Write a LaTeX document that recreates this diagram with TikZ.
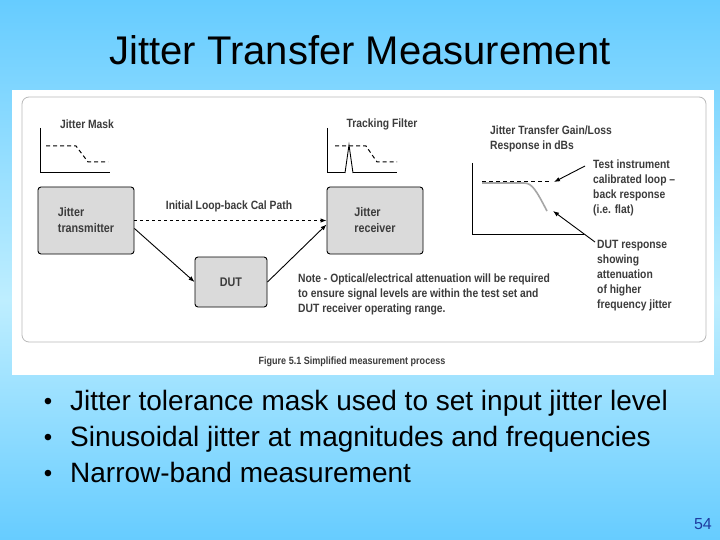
\documentclass[tikz,border=0pt]{standalone}
\usepackage{fontspec}
\setmainfont{Liberation Sans}
\newfontfamily\figfont[FakeStretch=0.86]{Liberation Sans Bold}
\usetikzlibrary{arrows.meta,calc}
\definecolor{bgdark}{RGB}{102,204,255}
\definecolor{bglight}{RGB}{190,238,255}
\definecolor{boxfill}{RGB}{218,218,218}
\definecolor{figtext}{RGB}{60,60,60}
\definecolor{pagenum}{RGB}{30,60,160}
\tikzset{
  figlabel/.style={font=\figfont\fontsize{12}{15}\selectfont, text=figtext, inner sep=0pt},
  blockbox/.style={draw=black, line width=0.9pt, rounded corners=3pt, fill=boxfill,
    font=\figfont\fontsize{12.5}{16}\selectfont, text=figtext, align=left},
  conn/.style={line width=0.9pt, -{Latex[length=6pt,width=4.5pt]}},
  pointer/.style={line width=0.9pt, -{Latex[length=6pt,width=4.5pt]}},
  axisline/.style={line width=1pt},
  maskline/.style={line width=1pt, dash pattern=on 4pt off 3pt},
  bullettext/.style={font=\fontsize{28}{32}\selectfont, anchor=base west, inner sep=0pt},
  bulletdot/.style={font=\fontsize{24}{28}\selectfont, anchor=base, inner sep=0pt},
}
\begin{document}
\begin{tikzpicture}[x=1pt,y=-1pt]
\useasboundingbox (0,0) rectangle (720,540);
% background
\shade[top color=bgdark, bottom color=bglight] (0,0) rectangle (720,300);
\shade[top color=bglight, bottom color=bgdark] (0,300) rectangle (720,540.5);
% title
\node[font=\fontsize{40}{46}\selectfont, inner sep=0pt] (title) at (360,50) {Jitter Transfer Measurement};
% figure panel
\fill[white] (12,90) rectangle (714,375);
\draw[gray!55, line width=0.8pt, rounded corners=7pt] (22,97) rectangle (706,342);
\node[figlabel, font=\figfont\fontsize{10.5}{12}\selectfont] (caption) at (352,362) {Figure 5.1 Simplified measurement process};

% jitter mask mini chart
\node[figlabel] (masklbl) at (87,124) {Jitter Mask};
\draw[axisline] (40,128) -- (40,173) -- (110,173);
\draw[maskline] (46,146) -- (76,146) -- (88,162) -- (108,162);

% tracking filter mini chart
\node[figlabel] (filtlbl) at (382,124) {Tracking Filter};
\draw[axisline] (327,128) -- (327,173) -- (397,173);
\draw[maskline] (335,146) -- (366,146) -- (377,162) -- (397,162);
\draw[line width=0.9pt, fill=white] (345,173) -- (349,145) -- (353,173);

% blocks
\node[blockbox, minimum width=96pt, minimum height=67pt] (tx) at (86,220.5) {Jitter\\transmitter};
\node[blockbox, minimum width=96pt, minimum height=67pt] (rx) at (375,220.5) {Jitter\\receiver};
\node[blockbox, minimum width=72pt, minimum height=50pt, align=center] (dut) at (231,282) {DUT};

% connectors
\draw[conn, dashed] (tx.east) -- (rx.west);
\node[figlabel] (pathlbl) at (229,206) {Initial Loop-back Cal Path};
\draw[conn] ([yshift=-8pt]tx.east) -- (dut.west);
\draw[conn] (dut.east) -- ([yshift=-4pt]rx.west);

% note
\node[figlabel, anchor=north west, align=left] (note) at (298,274)
  {Note - Optical/electrical attenuation will be required\\to ensure signal levels are within the test set and\\DUT receiver operating range.};

% response chart
\node[figlabel, anchor=north west, align=left] (resplbl) at (490,126) {Jitter Transfer Gain/Loss\\Response in dBs};
\draw[axisline] (472,163) -- (472,234) -- (584,234);
\draw[line width=1.6pt, gray!70] (482,183) -- (524,183) .. controls (532,183) and (536,190) .. (547,211);
\draw[line width=1pt, dash pattern=on 4pt off 3pt] (482,181.5) -- (550,181.5);

\node[figlabel, anchor=north west, align=left] (testtxt) at (593,160)
  {Test instrument\\calibrated loop \textendash\\back response\\(i.e. flat)};
\node[figlabel, anchor=north west, align=left] (duttxt) at (597,240)
  {DUT response\\showing\\attenuation\\of higher\\frequency jitter};
\coordinate (tip1) at (554,182);
\coordinate (tip2) at (553,211);
\draw[pointer] ([xshift=-8pt,yshift=-6pt]testtxt.north west) -- (tip1);
\draw[pointer] ([xshift=-2pt,yshift=-2pt]duttxt.north west) -- (tip2);

% bullets
\node[bullettext] (b1) at (70,410) {Jitter tolerance mask used to set input jitter level};
\node[bullettext] (b2) at (70,446) {Sinusoidal jitter at magnitudes and frequencies};
\node[bullettext] (b3) at (70,482) {Narrow-band measurement};
\foreach \yy/\nm in {409/d1,445/d2,481/d3}
  \node[bulletdot] (\nm) at (48,\yy) {\textbullet};

% page number
\node[font=\fontsize{16}{18}\selectfont, text=pagenum, anchor=base east, inner sep=0pt] (pg) at (712,529) {54};
\end{tikzpicture}
\end{document}
